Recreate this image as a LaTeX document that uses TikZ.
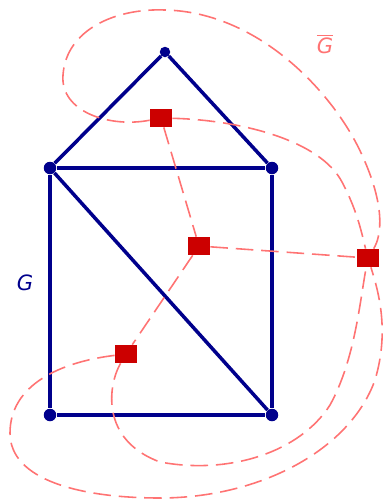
\documentclass[tikz,border=0pt]{standalone}
\usepackage{fontspec}
\setsansfont{DejaVu Sans}
\definecolor{gblue}{RGB}{0,0,140}
\definecolor{fred}{RGB}{204,0,0}
\definecolor{dred}{RGB}{255,115,115}
\begin{document}
\begin{tikzpicture}[x=0.02cm, y=-0.02cm,
  vtx/.style={circle, fill=gblue, inner sep=0pt, minimum size=2.5mm},
  face/.style={rectangle, fill=fred, inner sep=0pt, minimum width=4.4mm, minimum height=3.6mm},
  gedge/.style={draw=gblue, line width=2pt},
  dedge/.style={draw=dred, line width=0.9pt, dash pattern=on 10pt off 4.5pt}]
  \useasboundingbox (0,0) rectangle (389,501);
  % graph G
  \node[vtx, minimum size=2.1mm] (A) at (165,52) {};
  \node[vtx] (B) at (50,168) {};
  \node[vtx] (C) at (272,168) {};
  \node[vtx] (D) at (50,415) {};
  \node[vtx] (E) at (272,415) {};
  % faces (dual graph)
  \node[face] (f1) at (161,118) {};
  \node[face] (f2) at (199,246) {};
  \node[face] (f3) at (126,354) {};
  \node[face] (f4) at (368,258) {};
  \draw[gedge] (A) -- (B);
  \draw[gedge] (A) -- (C);
  \draw[gedge] (B) -- (C);
  \draw[gedge] (B) -- (D);
  \draw[gedge] (C) -- (E);
  \draw[gedge] (D) -- (E);
  \draw[gedge] (B) -- (E);
  % dual edges
  \draw[dedge] (f1) -- (f2);
  \draw[dedge] (f2) -- (f4);
  \draw[dedge] (f2) -- (f3);
  \draw[dedge] (f1) .. controls (110,128) and (60,112) .. (63,75)
    .. controls (66,30) and (115,8) .. (165,10)
    .. controls (260,12) and (335,95) .. (362,155)
    .. controls (385,205) and (382,235) .. (f4);
  \draw[dedge] (f1) .. controls (240,120) and (320,140) .. (342,182)
    .. controls (358,212) and (362,235) .. (f4);
  \draw[dedge] (f3) .. controls (60,362) and (10,385) .. (10,433)
    .. controls (10,480) and (80,498) .. (160,498)
    .. controls (260,498) and (350,450) .. (375,380)
    .. controls (390,330) and (378,290) .. (f4);
  \draw[dedge] (f3) .. controls (108,385) and (100,440) .. (160,462)
    .. controls (230,475) and (300,452) .. (330,405)
    .. controls (355,360) and (360,300) .. (f4);
  % labels
  \node[text=gblue, font=\sffamily\itshape\fontsize{12}{14}\selectfont] (lG) at (25,283) {G};
  \node[text=dred, font=\sffamily\itshape\fontsize{12}{14}\selectfont] (lGbar) at (325,44) {$\overline{\mbox{G}}$};
\end{tikzpicture}
\end{document}
